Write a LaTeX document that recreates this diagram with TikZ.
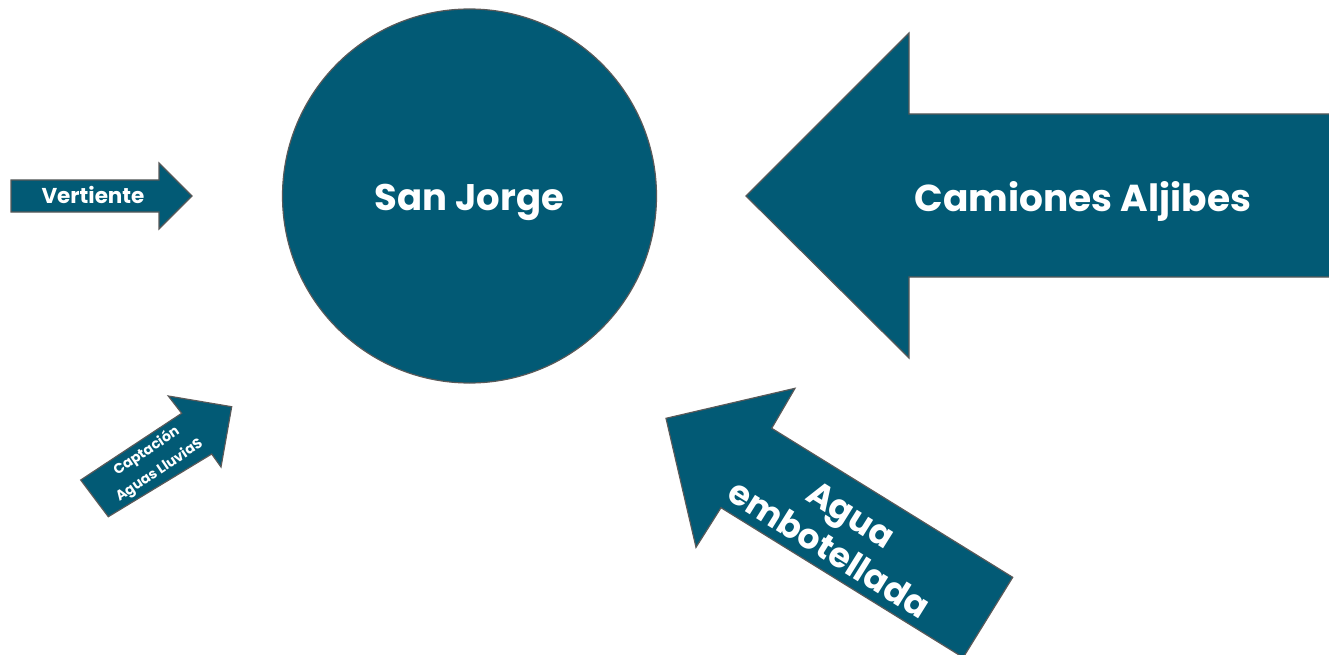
\documentclass[tikz,border=0pt]{standalone}
\usepackage{fontspec}
\setmainfont{Poppins}
\definecolor{teal}{HTML}{025A75}
\definecolor{edge}{HTML}{595959}
\tikzset{
  shp/.style={fill=teal, draw=edge, line width=1.2pt, line join=miter},
  lbl/.style={text=white, font=\bfseries, align=center, inner sep=0pt}
}
\begin{document}
\begin{tikzpicture}[x=1pt,y=-1pt]
\useasboundingbox (0,0) rectangle (1329,655);
\clip (0,0) rectangle (1329,655);
% circle
\path[shp] (469.5,196) circle[radius=187];
\node[lbl, anchor=base, font=\bfseries\fontsize{37}{44}\selectfont] (sj) at (469.5,210) {San Jorge};
% Vertiente arrow
\path[shp] (11,180) -- (159,180) -- (159,163) -- (192,196) -- (159,229) -- (159,212) -- (11,212) -- cycle;
\node[lbl, anchor=base, font=\bfseries\fontsize{21.5}{25}\selectfont] (vt) at (93,204) {Vertiente};
% Camiones arrow
\path[shp] (746,196) -- (909,33) -- (909,114) -- (1340,114) -- (1340,277) -- (909,277) -- (909,358) -- cycle;
\node[lbl, anchor=base, font=\bfseries\fontsize{37.5}{44}\selectfont] (ca) at (1083,211) {Camiones Aljibes};
% Captacion arrow
\path[shp] (80.7,480) -- (181.7,413.3) -- (168.3,396) -- (231.7,406.7) -- (221,467) -- (211.7,454) -- (108.3,516.7) -- cycle;
\node[lbl, font=\bfseries\fontsize{14}{23}\selectfont, rotate=33.7] (cp) at (153,461) {Captación\\Aguas LluviaS};
% Agua embotellada arrow
\path[shp] (666,418.3) -- (795,388.3) -- (771.7,428.3) -- (1012.7,577.3) -- (963.2,657.5) -- (721,507.7) -- (696,547.3) -- cycle;
\node[lbl, font=\bfseries\fontsize{34.5}{41}\selectfont, rotate=-32] (ae) at (840,532) {Agua\\embotellada};
\end{tikzpicture}
\end{document}
